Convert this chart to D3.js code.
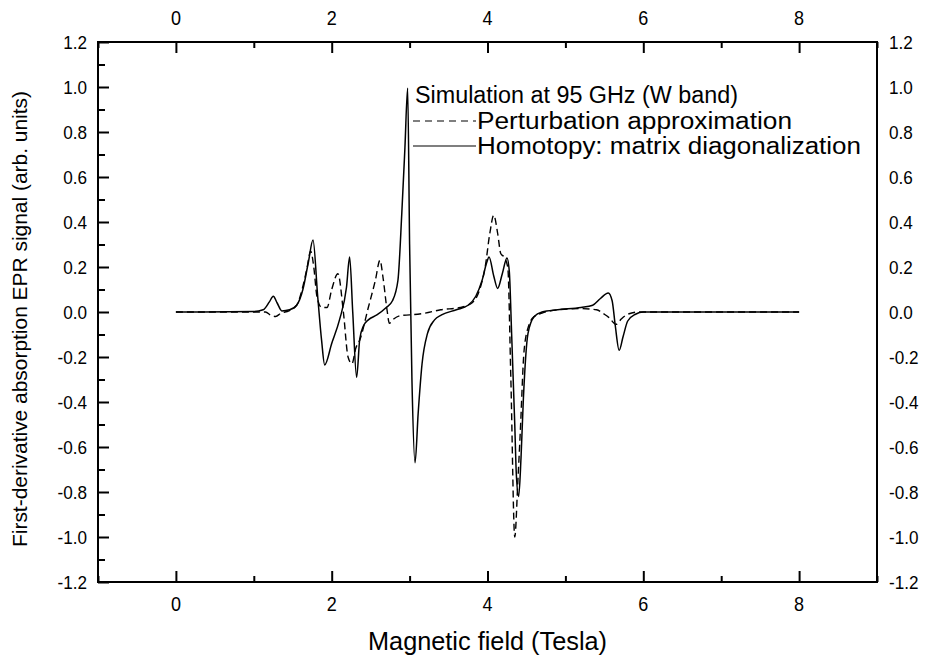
<!DOCTYPE html>
<html lang="en">
<head>
<meta charset="UTF-8">
<script src="https://d3js.org/d3.v7.min.js"></script>
<title>EPR simulation</title>
<style>
  body { margin: 0; background: #fff; }
  text { font-family: "Liberation Sans", Arial, sans-serif; fill: #000; }
</style>
</head>
<body>
<svg id="chart" width="930" height="662"></svg>
<script>
// Homotopy: matrix diagonalization (solid)
const homotopyX = [0, 1.0, 1.12, 1.2, 1.25, 1.3, 1.36, 1.46, 1.55, 1.63, 1.7, 1.76, 1.82, 1.87, 1.91, 2.0, 2.1, 2.19, 2.23, 2.27, 2.32, 2.36, 2.41, 2.47, 2.58, 2.7, 2.78, 2.85, 2.9, 2.94, 2.975, 3.0, 3.03, 3.07, 3.11, 3.16, 3.23, 3.32, 3.41, 3.6, 3.75, 3.85, 3.93, 3.99, 4.02, 4.08, 4.13, 4.19, 4.25, 4.28, 4.31, 4.35, 4.37, 4.40, 4.43, 4.46, 4.52, 4.6, 4.7, 4.9, 5.2, 5.35, 5.45, 5.55, 5.6, 5.64, 5.69, 5.74, 5.8, 5.9, 6.0, 8.0];
const homotopyY = [0, 0.002, 0.01, 0.045, 0.07, 0.04, 0.005, 0.01, 0.03, 0.1, 0.22, 0.32, 0.07, -0.125, -0.235, -0.14, -0.035, 0.11, 0.245, 0.0, -0.29, -0.12, -0.06, -0.035, -0.013, 0.02, 0.05, 0.14, 0.44, 0.73, 0.995, 0.3, -0.3, -0.67, -0.45, -0.23, -0.095, -0.035, -0.013, 0.01, 0.03, 0.07, 0.14, 0.22, 0.245, 0.16, 0.105, 0.17, 0.24, 0.18, -0.1, -0.5, -0.72, -0.82, -0.65, -0.39, -0.095, -0.02, 0.0, 0.01, 0.02, 0.03, 0.06, 0.085, 0.05, -0.06, -0.17, -0.11, -0.04, -0.01, 0, 0];

// Perturbation approximation (dashed)
const perturbX = [0, 1.15, 1.22, 1.28, 1.35, 1.45, 1.55, 1.62, 1.68, 1.73, 1.77, 1.81, 1.87, 1.94, 2.0, 2.08, 2.15, 2.21, 2.26, 2.31, 2.36, 2.47, 2.56, 2.62, 2.66, 2.71, 2.74, 2.8, 2.9, 3.0, 3.2, 3.4, 3.65, 3.8, 3.9, 3.97, 4.03, 4.08, 4.13, 4.17, 4.21, 4.26, 4.3, 4.35, 4.39, 4.42, 4.47, 4.53, 4.6, 4.7, 4.9, 5.2, 5.4, 5.5, 5.56, 5.65, 5.72, 5.8, 5.95, 8.0];
const perturbY = [0, 0.0, -0.015, -0.02, -0.005, 0.005, 0.03, 0.1, 0.19, 0.27, 0.2, 0.07, 0.02, 0.02, 0.1, 0.17, 0.0, -0.2, -0.23, -0.16, -0.125, 0.02, 0.14, 0.23, 0.15, 0.01, -0.05, -0.03, -0.015, -0.013, -0.005, 0.01, 0.02, 0.04, 0.1, 0.2, 0.35, 0.43, 0.35, 0.26, 0.245, 0.2, -0.3, -1.0, -0.75, -0.54, -0.17, -0.06, -0.02, -0.005, 0.01, 0.015, 0.01, -0.01, -0.025, -0.055, -0.03, -0.01, 0, 0];

const xTicks = [0, 2, 4, 6, 8];
const yTicks = [-1.2, -1.0, -0.8, -0.6, -0.4, -0.2, 0.0, 0.2, 0.4, 0.6, 0.8, 1.0, 1.2];
const legendTitle = "Simulation at 95 GHz (W band)";
const legendLabels = ["Perturbation approximation", "Homotopy: matrix diagonalization"];

const svg = d3.select("#chart");
const margin = { left: 98, right: 53, top: 42, bottom: 80 };
const width = 930, height = 662;

const x = d3.scaleLinear().domain([-1, 9]).range([margin.left, width - margin.right]);
const y = d3.scaleLinear().domain([-1.2, 1.2]).range([height - margin.bottom, margin.top]);

const fmt = d => d3.format(".1f")(d).replace("\u2212", "-");

// squeeze text horizontally (the original lettering is narrow)
function squeeze(sel, k) {
  sel.each(function () {
    const w = this.getComputedTextLength();
    d3.select(this).attr("textLength", w * k).attr("lengthAdjust", "spacingAndGlyphs");
  });
}

// axes: ticks inside the frame
const axBottom = svg.append("g").attr("transform", `translate(0,${y(-1.2)})`)
    .call(d3.axisBottom(x).tickValues(d3.range(-1, 10, 1)).tickSize(-6).tickFormat(""));
axBottom.selectAll(".tick line").filter(d => d % 2 === 0).attr("y2", -11);
const axTop = svg.append("g").attr("transform", `translate(0,${y(1.2)})`)
    .call(d3.axisTop(x).tickValues(d3.range(-1, 10, 1)).tickSize(-6).tickFormat(""));
axTop.selectAll(".tick line").filter(d => d % 2 === 0).attr("y2", 11);
const axLeft = svg.append("g").attr("transform", `translate(${x(-1)},0)`)
    .call(d3.axisLeft(y).tickValues(d3.range(-12, 13, 1).map(d => d / 10)).tickSize(-7).tickFormat(""));
axLeft.selectAll(".tick line").filter(d => Math.round(d * 10) % 2 === 0).attr("x2", 11);

svg.selectAll(".domain").remove();
svg.selectAll(".tick line").attr("stroke", "#000").attr("stroke-width", 2);

svg.append("rect")
    .attr("x", x(-1)).attr("y", y(1.2))
    .attr("width", x(9) - x(-1)).attr("height", y(-1.2) - y(1.2))
    .attr("fill", "none").attr("stroke", "#000").attr("stroke-width", 2);

// tick labels
const tk = 0.9;
svg.append("g").selectAll("text").data(xTicks).join("text")
    .attr("x", d => x(d)).attr("y", 611).attr("text-anchor", "middle")
    .attr("font-size", 20).text(d => d).call(squeeze, tk);
svg.append("g").selectAll("text").data(xTicks).join("text")
    .attr("x", d => x(d)).attr("y", 25).attr("text-anchor", "middle")
    .attr("font-size", 20).text(d => d).call(squeeze, tk);
svg.append("g").selectAll("text").data(yTicks).join("text")
    .attr("x", 87).attr("y", d => y(d)).attr("dy", "0.35em").attr("text-anchor", "end")
    .attr("font-size", 19).text(d => fmt(d)).call(squeeze, tk);
svg.append("g").selectAll("text").data(yTicks).join("text")
    .attr("x", 889).attr("y", d => y(d)).attr("dy", "0.35em").attr("text-anchor", "start")
    .attr("font-size", 19).text(d => fmt(d)).call(squeeze, tk);

// axis titles
svg.append("text").attr("x", x(4)).attr("y", 650).attr("text-anchor", "middle")
    .attr("font-size", 26).attr("textLength", 239).attr("lengthAdjust", "spacingAndGlyphs")
    .text("Magnetic field (Tesla)");
svg.append("text").attr("transform", `translate(27,319) rotate(-90)`)
    .attr("text-anchor", "middle").attr("font-size", 21)
    .attr("textLength", 456).attr("lengthAdjust", "spacingAndGlyphs")
    .text("First-derivative absorption EPR signal (arb. units)");

// curves
const line = d3.line().x(d => x(d[0])).y(d => y(d[1])).curve(d3.curveMonotoneX);
const homotopy = homotopyX.map((v, i) => [v, homotopyY[i]]);
const perturb = perturbX.map((v, i) => [v, perturbY[i]]);

svg.append("path").datum(perturb).attr("d", line)
    .attr("fill", "none").attr("stroke", "#000").attr("stroke-width", 1.4)
    .attr("stroke-dasharray", "7,4");
svg.append("path").datum(homotopy).attr("d", line)
    .attr("fill", "none").attr("stroke", "#000").attr("stroke-width", 1.5);

// legend
const lg = svg.append("g");
lg.append("text").attr("x", 415).attr("y", 103).attr("font-size", 23)
    .attr("textLength", 323).attr("lengthAdjust", "spacingAndGlyphs").text(legendTitle);
const legendWidths = [315, 384];
legendLabels.forEach((lab, i) => {
  const yy = 129 + i * 25;
  lg.append("line").attr("x1", 413).attr("x2", 476).attr("y1", yy - 8).attr("y2", yy - 8)
    .attr("stroke", "#000").attr("stroke-width", 1.2)
    .attr("stroke-dasharray", i === 0 ? "7,5" : null);
  lg.append("text").attr("x", 477).attr("y", yy).attr("font-size", 23)
    .attr("textLength", legendWidths[i]).attr("lengthAdjust", "spacingAndGlyphs").text(lab);
});
</script>
</body>
</html>
